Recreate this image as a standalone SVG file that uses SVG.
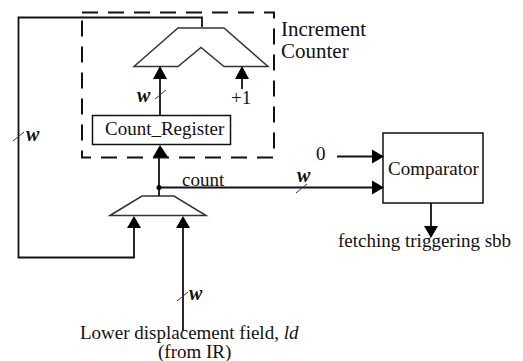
<svg xmlns="http://www.w3.org/2000/svg" width="523" height="361" viewBox="0 0 523 361">
<style>
text{font-family:"Liberation Serif","Times New Roman",serif;font-size:19px;fill:#111}
.b{font-size:21px}
.i{font-style:italic;font-weight:bold;font-size:20px}
.l{fill:none;stroke:#111;stroke-width:1.800}
.t{fill:none;stroke:#333;stroke-width:1}
.m{fill:#fff;stroke:#333;stroke-width:1.500}
.h{fill:#000}
</style>
<rect width="523" height="361" fill="#fff"/>
<g id="increment-counter"><rect x="82" y="12.500" width="192" height="145" fill="none" stroke="#111" stroke-width="2" stroke-dasharray="16 10"/>
<text class="b" x="281" y="36">Increment</text><text class="b" x="281" y="58">Counter</text></g>
<g id="adder"><path class="m" d="M134 66.500L178 28H224L268 66.500H224L201 47.500L178 66.500Z"/></g>
<g id="count-register"><rect x="92.500" y="115.500" width="138" height="29" fill="#fff" stroke="#111" stroke-width="1.500"/><text x="105" y="135">Count_Register</text></g>
<g id="mux"><path class="m" d="M110 215.500L142 196H174L206 215.500Z"/></g>
<g id="comparator"><rect x="383" y="133" width="100" height="70" fill="#fff" stroke="#111" stroke-width="1.500"/><text x="388" y="175">Comparator</text></g>
<g id="connectors">
<path class="l" d="M202 27V17.500H18.500V257.500H134V228"/>
<path class="l" d="M160 115V78"/>
<path class="l" d="M242 89V78"/>
<path class="l" d="M159 196V156"/>
<path class="l" d="M159 187.500H375"/>
<path class="l" d="M337 156.500H372"/>
<path class="l" d="M183 331V228"/>
<path class="l" d="M431 203V228"/>
<path class="h" d="M160 66L153 79H167Z"/><path class="h" d="M242 66L235 79H249Z"/><path class="h" d="M160 145L153 157H168Z"/>
<path class="h" d="M134 216L127 228H141Z"/><path class="h" d="M183 216L176 228H190Z"/>
<path class="h" d="M384 156.500L372 149.500V163.500Z"/><path class="h" d="M384 187.500L372 180.500V194.500Z"/><path class="h" d="M431 238L424 226H438Z"/>
<circle class="h" cx="159" cy="187.500" r="2.500"/>
<path class="t" d="M155 99L166 90M13 141L24 132M177 301L188 292M296 193L307 184"/>
</g>
<g id="labels">
<text class="i" x="137" y="102">w</text><text x="231" y="104">+1</text>
<text class="i" x="26" y="141">w</text><text class="i" x="189" y="300">w</text>
<text x="182" y="186">count</text><text class="i" x="297" y="182">w</text><text x="316" y="160">0</text>
<text x="338" y="247">fetching triggering sbb</text>
<text x="80" y="339">Lower displacement field, <tspan font-style="italic">ld</tspan></text>
<text x="158" y="358">(from IR)</text>
</g>
</svg>
